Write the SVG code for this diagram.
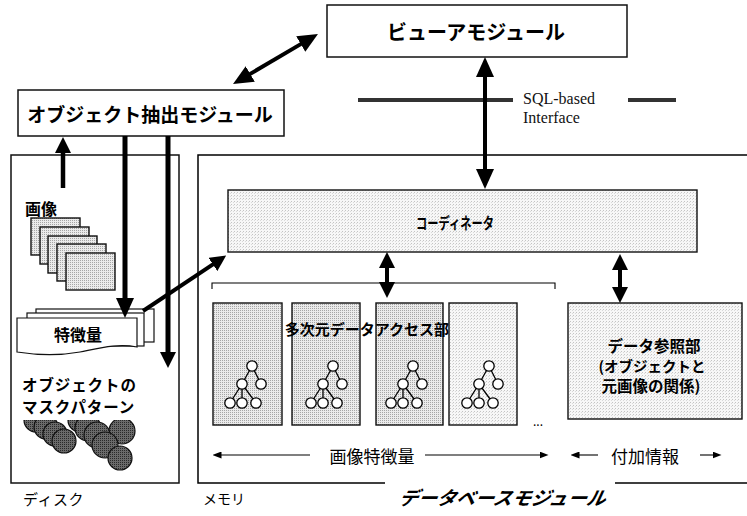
<svg xmlns="http://www.w3.org/2000/svg" width="747" height="516" viewBox="0 0 747 516">
  <defs>
    <style>
      .frame{fill:#fff;stroke:#111;stroke-width:1.5}
      .sheet{fill:#fff;stroke:#111;stroke-width:1.2}
      .mid{fill:url(#stipMid);stroke:#111;stroke-width:1.4}
      .light{fill:url(#stipLight);stroke:#111;stroke-width:1.4}
      .jp{font-family:"Noto Sans CJK JP","Noto Sans",sans-serif;fill:#000;dominant-baseline:central}
      .b{font-weight:bold}
      .c{text-anchor:middle}
      .serif{font-family:"Liberation Serif","Times New Roman",serif;fill:#111;font-size:16px}
      .wire{stroke:#000;fill:none}
      .thin{stroke:#000;stroke-width:1.1;fill:none}
      .node{fill:#fff;stroke:#000;stroke-width:1.3}
      .edge{stroke:#000;stroke-width:1.3;fill:none}
      .mask{fill:url(#stipDark);stroke:#111;stroke-width:1.2}
    </style>
    <pattern id="stipLight" width="3" height="3" patternUnits="userSpaceOnUse">
      <rect width="3" height="3" fill="#f7f7f7"/>
      <rect x="0" y="0" width="1" height="1" fill="#c4c4c4"/>
      <rect x="2" y="1" width="1" height="1" fill="#dadada"/>
    </pattern>
    <pattern id="stipMid" width="2" height="2" patternUnits="userSpaceOnUse">
      <rect width="2" height="2" fill="#ebebeb"/>
      <rect x="0" y="0" width="1" height="1" fill="#a6a6a6"/>
    </pattern>
    <pattern id="stipDark" width="2" height="2" patternUnits="userSpaceOnUse">
      <rect width="2" height="2" fill="#6a6a6a"/>
      <rect x="0" y="0" width="1" height="1" fill="#2a2a2a"/>
    </pattern>
    <marker id="headL" viewBox="0 0 20 18" refX="1" refY="9" markerWidth="20" markerHeight="18" markerUnits="userSpaceOnUse" orient="auto-start-reverse">
      <path d="M0,0 L20,9 L0,18 Z" fill="#000"/>
    </marker>
    <marker id="headM" viewBox="0 0 16 16" refX="1" refY="8" markerWidth="16" markerHeight="16" markerUnits="userSpaceOnUse" orient="auto-start-reverse">
      <path d="M0,0 L16,8 L0,16 Z" fill="#000"/>
    </marker>
    <marker id="headS" viewBox="0 0 9 7" refX="0.5" refY="3.5" markerWidth="9" markerHeight="7" markerUnits="userSpaceOnUse" orient="auto-start-reverse">
      <path d="M0,0 L9,3.5 L0,7 Z" fill="#000"/>
    </marker>
    <clipPath id="maskClip">
      <rect x="15" y="420" width="140" height="60"/>
    </clipPath>
    <g id="tree">
      <path class="edge" d="M0,0 L-10,18 M0,0 L9,18 M-10,18 L-22,37 M-10,18 L-10,37 M-10,18 L4,37"/>
      <circle class="node" cx="0" cy="0" r="5.2"/>
      <circle class="node" cx="-10" cy="18" r="5.2"/>
      <circle class="node" cx="9" cy="18" r="5.2"/>
      <circle class="node" cx="-22" cy="37" r="5.2"/>
      <circle class="node" cx="-10" cy="37" r="5.2"/>
      <circle class="node" cx="4" cy="37" r="5.2"/>
    </g>
  </defs>

  <rect width="747" height="516" fill="#fff"/>

  <!-- disk area -->
  <g id="disk">
    <rect class="frame" x="11" y="155" width="168" height="328"/>
    <text class="jp" x="23" y="498" font-size="15" letter-spacing="0.5">ディスク</text>
  </g>

  <!-- memory area / database module -->
  <g id="memory">
    <path class="wire" stroke-width="1.5" d="M747,155 H198 V483 H385 M615,483 H747"/>
    <text class="jp" x="203" y="498" font-size="14">メモリ</text>
    <text class="jp b c" x="503" y="497" font-size="19" font-style="italic" transform="translate(503 497) skewX(-12) translate(-503 -497)">データベースモジュール</text>
  </g>

  <!-- SQL interface line -->
  <g id="sql-interface">
    <path d="M358,100 H513 M628,100 H676" stroke="#333" stroke-width="4" fill="none"/>
    <text class="serif" x="523" y="104">SQL-based</text>
    <text class="serif" x="523" y="123">Interface</text>
  </g>

  <g id="view-module">
    <rect class="frame" x="327" y="5" width="300" height="52"/>
    <text class="jp b c" x="476" y="31" font-size="20">ビューアモジュール</text>
  </g>

  <g id="object-extraction">
    <rect class="frame" x="18" y="90" width="266" height="46"/>
    <text class="jp b c" x="150" y="113" font-size="19">オブジェクト抽出モジュール</text>
  </g>

  <g id="images">
    <text class="jp b" x="25" y="208" font-size="16">画像</text>
    <rect class="mid" x="31" y="218" width="49" height="37"/>
    <rect class="mid" x="40" y="227" width="49" height="37"/>
    <rect class="mid" x="48" y="236" width="49" height="37"/>
    <rect class="mid" x="57" y="244" width="49" height="37"/>
    <rect class="mid" x="66" y="253" width="49" height="37"/>
  </g>

  <g id="features">
    <rect class="sheet" x="36" y="309" width="118" height="33"/>
    <rect class="sheet" x="27" y="313" width="117" height="33"/>
    <path class="sheet" d="M17,318 H137 V347 C118,343 100,348 80,352 C58,356 36,355 17,352 Z"/>
    <text class="jp b c" x="78" y="334" font-size="16">特徴量</text>
  </g>

  <g id="mask-patterns">
    <text class="jp b" x="22" y="384" font-size="15.5" letter-spacing="0.9">オブジェクトの</text>
    <text class="jp b" x="22" y="406" font-size="15.5" letter-spacing="0.9">マスクパターン</text>
    <g clip-path="url(#maskClip)">
      <circle class="mask" cx="36" cy="420" r="12"/>
      <circle class="mask" cx="46" cy="427" r="12"/>
      <circle class="mask" cx="55" cy="434" r="12"/>
      <circle class="mask" cx="64" cy="441" r="12"/>
      <circle class="mask" cx="80" cy="420" r="12"/>
      <circle class="mask" cx="122" cy="431" r="13"/>
      <circle class="mask" cx="88" cy="428" r="13"/>
      <circle class="mask" cx="97" cy="435" r="13"/>
      <circle class="mask" cx="105" cy="445" r="13"/>
      <circle class="mask" cx="120" cy="458" r="12"/>
    </g>
  </g>

  <g id="coordinator">
    <rect class="light" x="228" y="190" width="469" height="62"/>
    <text class="jp b c" x="455" y="222" font-size="15.5" textLength="78" lengthAdjust="spacingAndGlyphs">コーディネータ</text>
  </g>

  <g id="multidim-access">
    <path class="thin" d="M212,289 V283 H555 V289"/>
    <rect class="mid" x="213" y="303" width="69" height="122"/>
    <rect class="mid" x="292" y="303" width="68" height="122"/>
    <rect class="mid" x="376" y="303" width="67" height="122"/>
    <rect class="light" x="449" y="303" width="68" height="122"/>
    <use href="#tree" x="252" y="366"/>
    <use href="#tree" x="333" y="366"/>
    <use href="#tree" x="413" y="366"/>
    <use href="#tree" x="489" y="366"/>
    <text class="jp" x="538" y="420" font-size="12" text-anchor="middle">...</text>
    <text class="jp b c" x="367" y="328" font-size="15">多次元データアクセス部</text>
  </g>

  <g id="data-reference">
    <rect class="light" x="568" y="303" width="174" height="116"/>
    <text class="jp b c" x="654" y="345" font-size="15.5">データ参照部</text>
    <text class="jp b c" x="652" y="365" font-size="14.5">(オブジェクトと</text>
    <text class="jp b c" x="651" y="385" font-size="15.5">元画像の関係)</text>
  </g>

  <g id="range-labels">
    <text class="jp c" x="372" y="455" font-size="17">画像特徴量</text>
    <text class="jp c" x="645" y="455" font-size="17">付加情報</text>
  </g>

  <!-- connectors -->
  <g id="connectors">
    <line class="wire" stroke-width="4" x1="249.4" y1="74.4" x2="301.6" y2="43.6" marker-start="url(#headL)" marker-end="url(#headL)"/>
    <line class="wire" stroke-width="4" x1="485" y1="76" x2="485" y2="170" marker-start="url(#headL)" marker-end="url(#headL)"/>
    <line class="wire" stroke-width="4.5" x1="63" y1="188" x2="63" y2="152" marker-end="url(#headM)"/>
    <line class="wire" stroke-width="5" x1="125" y1="136" x2="125" y2="299" marker-end="url(#headL)"/>
    <line class="wire" stroke-width="5" x1="168" y1="136" x2="168" y2="353" marker-end="url(#headM)"/>
    <line class="wire" stroke-width="4" x1="143" y1="311" x2="213.7" y2="263.9" marker-end="url(#headM)"/>
    <line class="wire" stroke-width="4" x1="387" y1="267" x2="387" y2="283" marker-start="url(#headM)" marker-end="url(#headM)"/>
    <line class="wire" stroke-width="4" x1="620" y1="269" x2="620" y2="288" marker-start="url(#headM)" marker-end="url(#headM)"/>
    <line class="thin" x1="310" y1="455" x2="221" y2="455" marker-end="url(#headS)"/>
    <line class="thin" x1="425" y1="455" x2="540" y2="455" marker-end="url(#headS)"/>
    <line class="thin" x1="598" y1="455" x2="579" y2="455" marker-end="url(#headS)"/>
    <line class="thin" x1="700" y1="455" x2="713" y2="455" marker-end="url(#headS)"/>
  </g>
</svg>
